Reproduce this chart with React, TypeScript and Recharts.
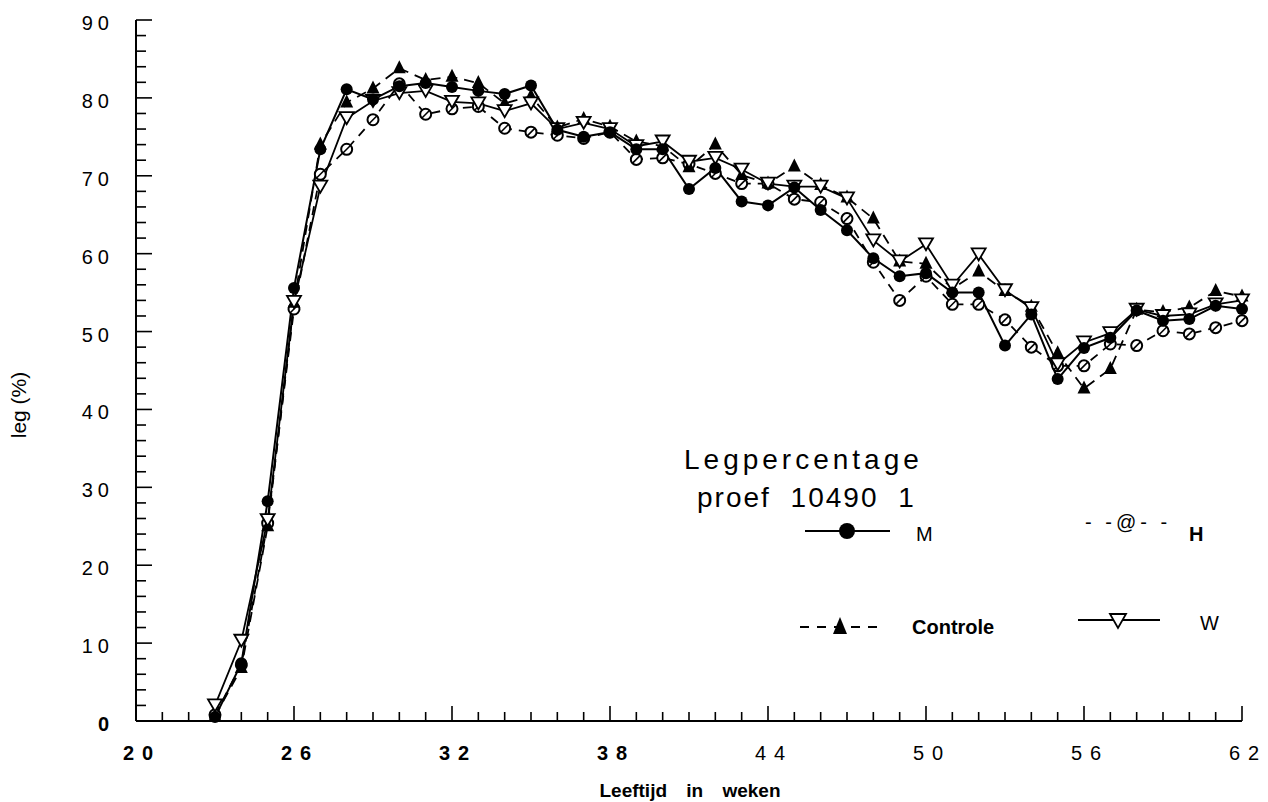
import { LineChart, Line, XAxis, YAxis } from "recharts";

const weeks = [23, 24, 25, 26, 27, 28, 29, 30, 31, 32, 33, 34, 35, 36, 37, 38, 39, 40, 41, 42, 43, 44, 45, 46, 47, 48, 49, 50, 51, 52, 53, 54, 55, 56, 57, 58, 59, 60, 61, 62];
const mValues = [0.5, 7.4, 28.2, 55.6, 73.4, 81.1, 79.8, 81.5, 81.9, 81.4, 80.9, 80.5, 81.6, 75.9, 75.0, 75.6, 73.4, 73.4, 68.3, 71.0, 66.7, 66.2, 68.5, 65.6, 63.0, 59.4, 57.1, 57.5, 55.0, 55.0, 48.2, 52.2, 43.9, 47.9, 49.2, 52.7, 51.4, 51.6, 53.3, 52.9];
const hValues = [0.8, 7.2, 25.4, 52.9, 70.2, 73.4, 77.2, 81.8, 77.9, 78.6, 78.9, 76.1, 75.6, 75.2, 74.8, 75.6, 72.1, 72.3, 71.5, 70.3, 69.0, 69.0, 67.0, 66.6, 64.5, 58.9, 54.0, 57.1, 53.5, 53.5, 51.5, 48.0, 45.6, 45.6, 48.4, 48.2, 50.1, 49.7, 50.5, 51.4];
const controleValues = [0.6, 6.8, 25.0, 53.7, 74.0, 79.4, 81.2, 83.8, 82.3, 82.7, 81.9, 79.3, 80.2, 76.2, 77.3, 76.3, 74.4, 73.8, 71.1, 74.0, 70.1, 69.0, 71.2, 68.8, 67.2, 64.5, 59.0, 58.7, 55.5, 57.7, 55.2, 53.2, 47.2, 42.7, 45.2, 52.8, 52.5, 53.1, 55.2, 54.5];
const wValues = [2.0, 10.3, 25.8, 53.8, 68.6, 77.4, 79.6, 80.6, 80.9, 79.5, 79.3, 78.3, 79.3, 76.0, 76.8, 76.0, 73.8, 74.4, 71.8, 72.3, 70.8, 69.0, 68.6, 68.6, 67.1, 61.7, 59.0, 61.2, 55.9, 59.9, 55.3, 53.0, 45.8, 48.6, 49.8, 52.8, 52.0, 52.2, 53.5, 54.0];

const xTicks = [20, 21, 22, 23, 24, 25, 26, 27, 28, 29, 30, 31, 32, 33, 34, 35, 36, 37, 38, 39, 40, 41, 42, 43, 44, 45, 46, 47, 48, 49, 50, 51, 52, 53, 54, 55, 56, 57, 58, 59, 60, 61, 62];
const xLabels = [20, 26, 32, 38, 44, 50, 56, 62];
const yTicks = [0, 2, 4, 6, 8, 10, 12, 14, 16, 18, 20, 22, 24, 26, 28, 30, 32, 34, 36, 38, 40, 42, 44, 46, 48, 50, 52, 54, 56, 58, 60, 62, 64, 66, 68, 70, 72, 74, 76, 78, 80, 82, 84, 86, 88, 90];
const yLabels = [0, 10, 20, 30, 40, 50, 60, 70, 80, 90];

const data = weeks.map((week, i) => ({
  week,
  M: mValues[i],
  H: hValues[i],
  Controle: controleValues[i],
  W: wValues[i],
}));

const FONT = '"Liberation Sans", Arial, Helvetica, sans-serif';

function XTick(props: any) {
  const { x, y, payload } = props;
  const v = payload.value;
  const major = xLabels.includes(v);
  return (
    <g>
      <line x1={x} y1={y} x2={x} y2={y - (major ? 15 : 9)} stroke="#000" strokeWidth={1.6} />
      {major && (
        <text
          x={x + 6}
          y={y + 39}
          textAnchor="middle"
          fontSize={20}
          fontWeight={v <= 38 ? 700 : 400}
          letterSpacing={8}
          fontFamily={FONT}
          fill="#000"
        >
          {v}
        </text>
      )}
    </g>
  );
}

function YTick(props: any) {
  const { x, y, payload } = props;
  const v = payload.value;
  const major = yLabels.includes(v);
  return (
    <g>
      <line x1={x} y1={y} x2={x + (major ? 16 : 10)} y2={y} stroke="#000" strokeWidth={1.6} />
      {major && (
        <text
          x={x - 22}
          y={y + 10}
          textAnchor="end"
          fontSize={20}
          fontWeight={v === 0 ? 700 : 400}
          letterSpacing={5}
          fontFamily={FONT}
          fill="#000"
        >
          {v}
        </text>
      )}
    </g>
  );
}

const dotM = (p: any) => <circle key={`m-${p.index}`} cx={p.cx} cy={p.cy} r={6} fill="#000" />;

const dotH = (p: any) => (
  <g key={`h-${p.index}`}>
    <circle cx={p.cx} cy={p.cy} r={5.5} fill="#fff" stroke="#000" strokeWidth={2} />
    <line x1={p.cx - 4} y1={p.cy + 4} x2={p.cx + 4} y2={p.cy - 4} stroke="#000" strokeWidth={1.6} />
  </g>
);

const dotC = (p: any) => (
  <polygon
    key={`c-${p.index}`}
    points={`${p.cx},${p.cy - 8} ${p.cx + 6.5},${p.cy + 5} ${p.cx - 6.5},${p.cy + 5}`}
    fill="#000"
  />
);

const dotW = (p: any) => (
  <polygon
    key={`w-${p.index}`}
    points={`${p.cx - 7},${p.cy - 6} ${p.cx + 7},${p.cy - 6} ${p.cx},${p.cy + 6}`}
    fill="#fff"
    stroke="#000"
    strokeWidth={1.8}
  />
);

export default function App() {
  return (
    <div style={{ position: "absolute", left: 0, top: 0, width: 1268, height: 802, background: "#fff" }}>
      <LineChart width={1268} height={802} data={data} margin={{ top: 20, right: 26, left: 0, bottom: 0 }}>
        <XAxis
          dataKey="week"
          type="number"
          domain={[20, 62]}
          ticks={xTicks}
          interval={0}
          height={81}
          tickSize={0}
          tickMargin={0}
          tickLine={false}
          axisLine={{ stroke: "#000", strokeWidth: 2 }}
          tick={<XTick />}
        />
        <YAxis
          type="number"
          domain={[0, 90]}
          ticks={yTicks}
          interval={0}
          width={136}
          tickSize={0}
          tickMargin={0}
          tickLine={false}
          axisLine={{ stroke: "#000", strokeWidth: 2 }}
          tick={<YTick />}
        />
        <Line dataKey="H" stroke="#000" strokeWidth={1.8} strokeDasharray="9 7" dot={dotH} isAnimationActive={false} />
        <Line dataKey="Controle" stroke="#000" strokeWidth={1.8} strokeDasharray="10 7" dot={dotC} isAnimationActive={false} />
        <Line dataKey="W" stroke="#000" strokeWidth={1.8} dot={dotW} isAnimationActive={false} />
        <Line dataKey="M" stroke="#000" strokeWidth={2} dot={dotM} isAnimationActive={false} />
      </LineChart>
      <svg
        width={1268}
        height={802}
        style={{ position: "absolute", left: 0, top: 0, pointerEvents: "none" }}
        fontFamily={FONT}
      >
        <text x={20} y={405} transform="rotate(-90 20 405)" textAnchor="middle" dominantBaseline="middle" fontSize={21} fill="#000">
          leg (%)
        </text>
        <text x={690} y={797} textAnchor="middle" fontSize={19} fontWeight={700} wordSpacing={14} fill="#000">
          Leeftijd in weken
        </text>

        <text x={684} y={469} fontSize={28} letterSpacing={4} fill="#000">
          Legpercentage
        </text>
        <text x={697} y={507} fontSize={28} letterSpacing={2} wordSpacing={10} fill="#000">
          proef 10490 1
        </text>

        <line x1={805} y1={531} x2={890} y2={531} stroke="#000" strokeWidth={1.8} />
        <circle cx={847} cy={531} r={8} fill="#000" />
        <text x={916} y={541} fontSize={20} fill="#000">M</text>

        <text x={1085} y={529} fontSize={20} letterSpacing={4} fill="#000">- -@- -</text>
        <text x={1189} y={541} fontSize={20} fontWeight={700} fill="#000">H</text>

        <line x1={800} y1={627} x2={885} y2={627} stroke="#000" strokeWidth={1.8} strokeDasharray="9 8" />
        <polygon points="840,617 847,634 833,634" fill="#000" />
        <text x={912} y={634} fontSize={20} fontWeight={700} fill="#000">Controle</text>

        <line x1={1078} y1={620} x2={1160} y2={620} stroke="#000" strokeWidth={1.8} />
        <polygon points="1110,614 1126,614 1118,628" fill="#fff" stroke="#000" strokeWidth={1.8} />
        <text x={1200} y={630} fontSize={20} fill="#000">W</text>
      </svg>
    </div>
  );
}
